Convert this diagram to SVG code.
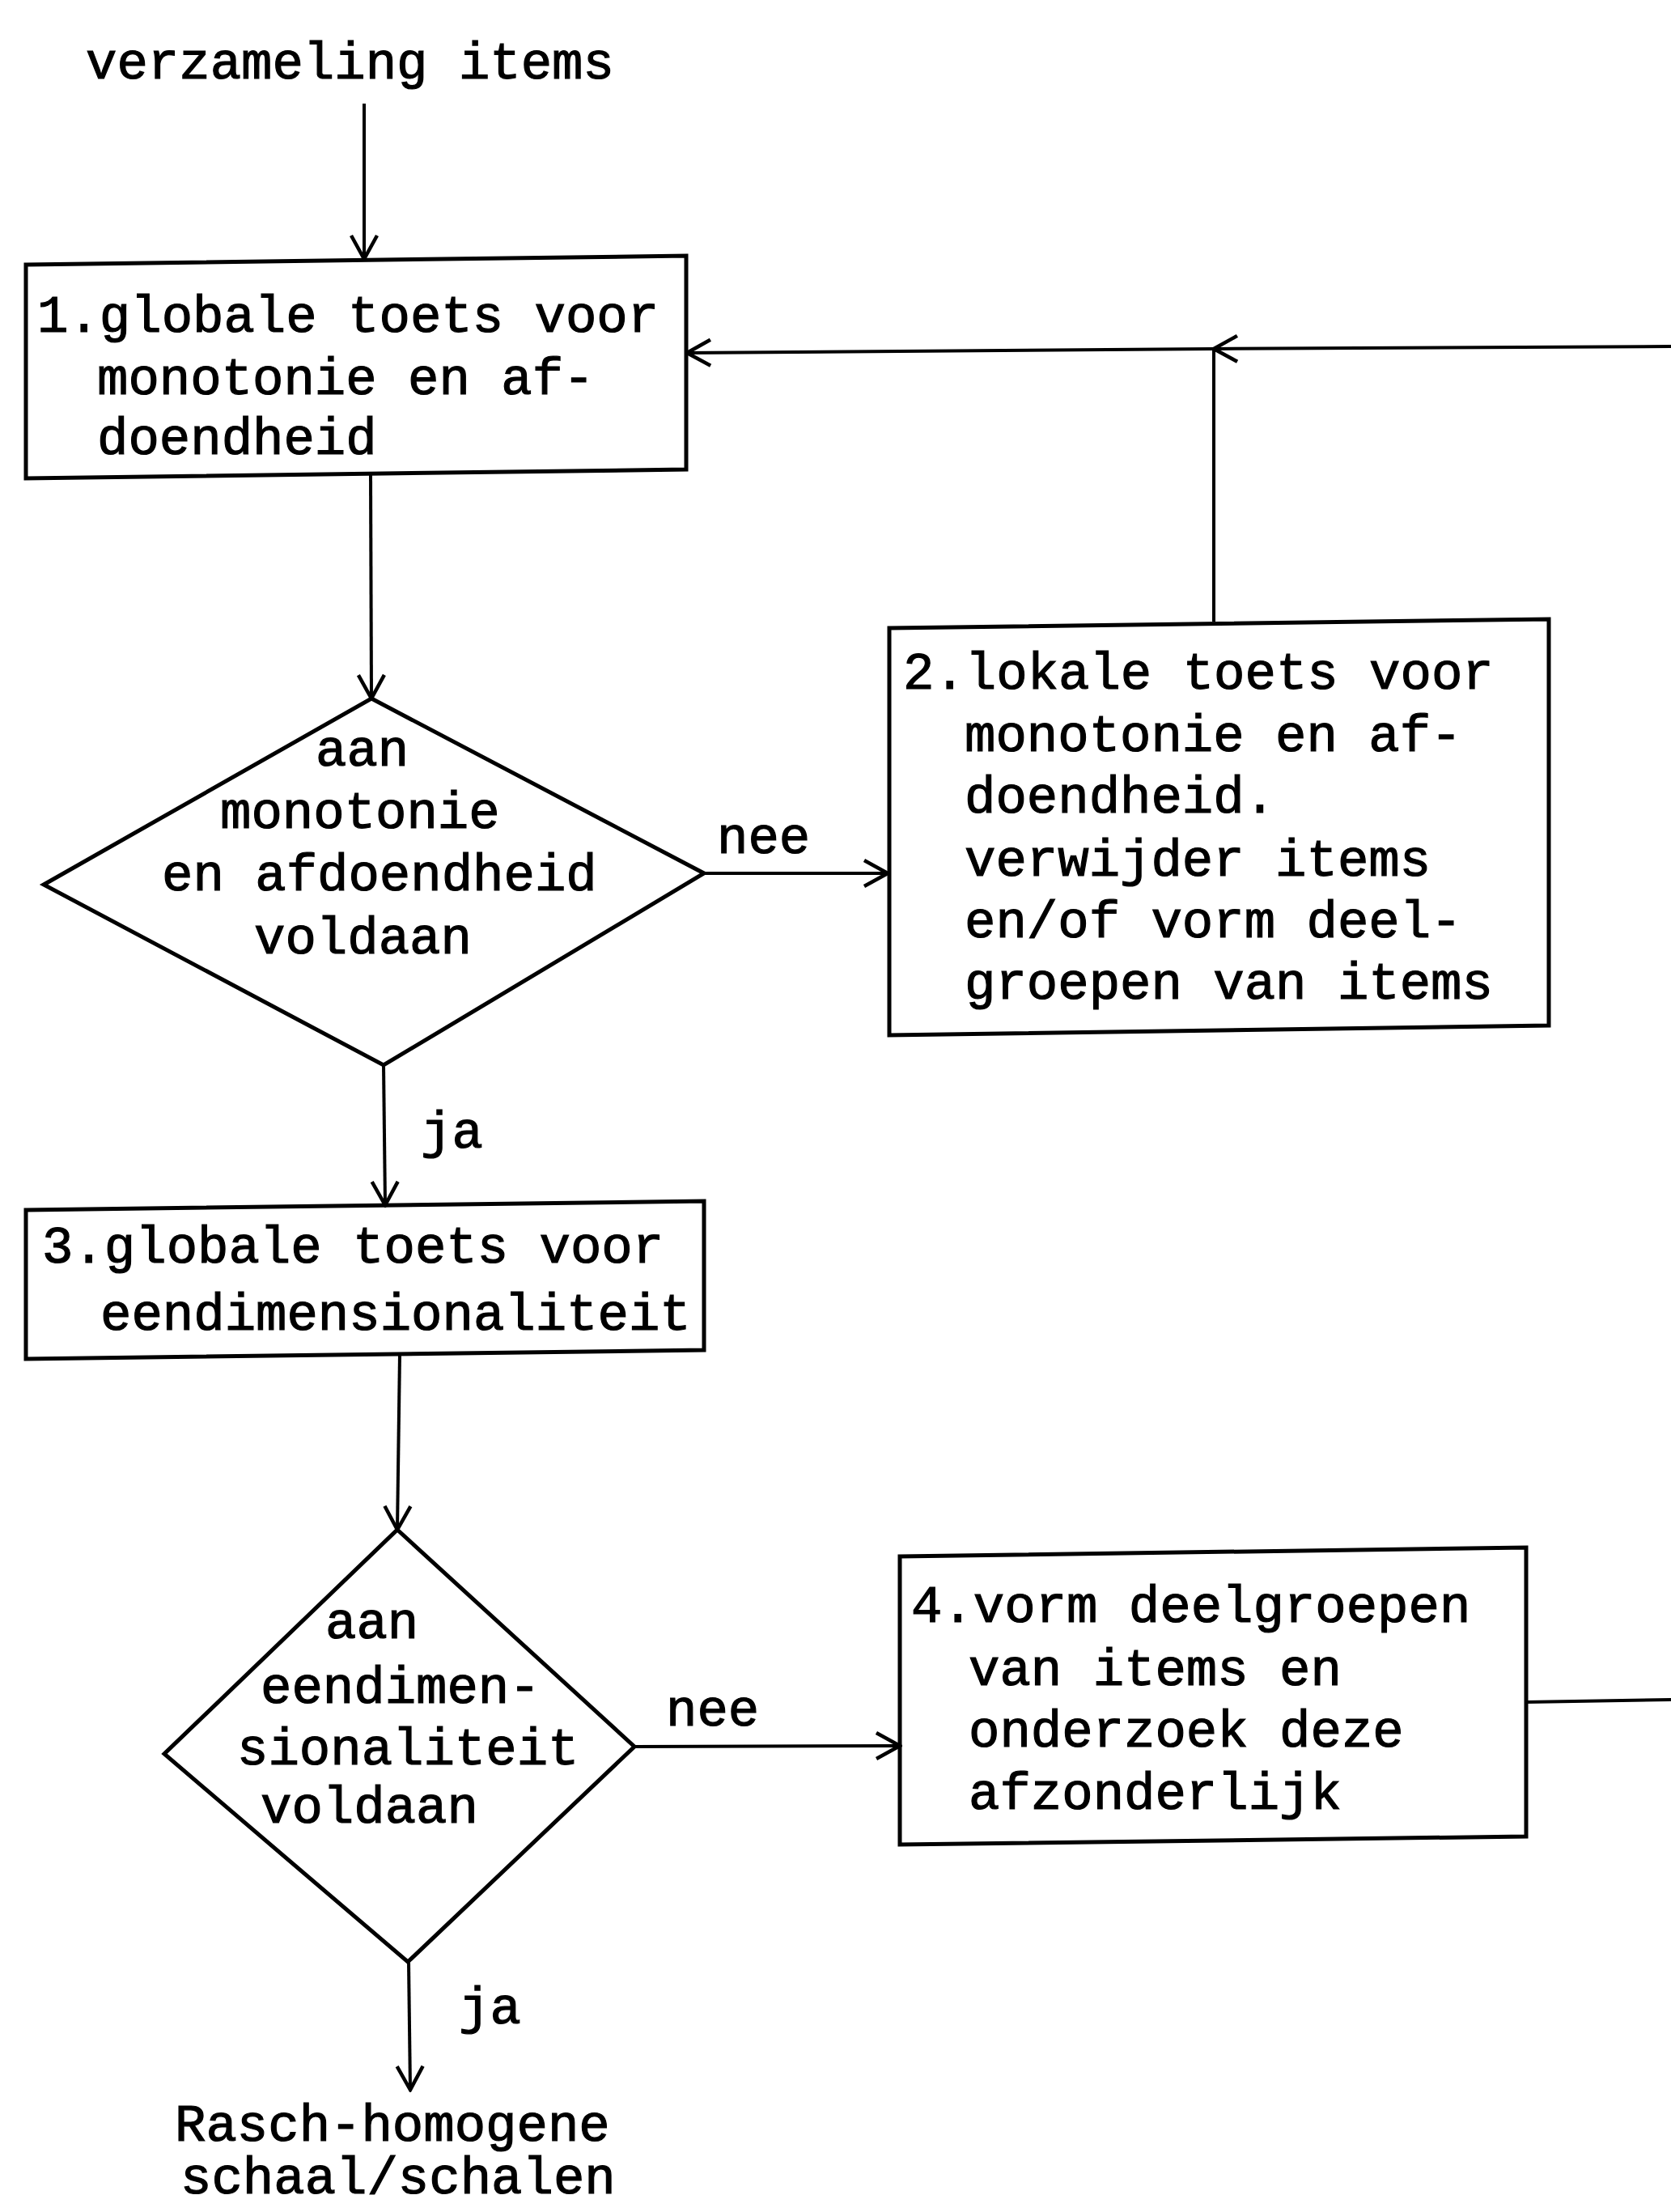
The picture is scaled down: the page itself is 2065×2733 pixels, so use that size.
<svg xmlns="http://www.w3.org/2000/svg" width="2065" height="2733" viewBox="0 0 2065 2733">
<style>
text{font-family:"Liberation Mono","DejaVu Sans Mono",monospace;font-size:64px;fill:#000;stroke:#000;stroke-width:1.2}
.shape{fill:none;stroke:#000;stroke-width:5;stroke-linejoin:miter}
.conn{fill:none;stroke:#000;stroke-width:4}
</style>
<defs>
<marker id="arr" markerUnits="userSpaceOnUse" markerWidth="44" markerHeight="40" viewBox="0 0 44 40" refX="41" refY="20" orient="auto">
<path d="M12,4 L41,20 L12,36" fill="none" stroke="#000" stroke-width="4.5"/>
</marker>
</defs>
<rect width="2065" height="2733" fill="#fff"/>

<g id="connectors">
<line class="conn" x1="450" y1="128" x2="450" y2="320" marker-end="url(#arr)"/>
<line class="conn" x1="458" y1="586" x2="459" y2="863" marker-end="url(#arr)"/>
<line class="conn" x1="870" y1="1079" x2="1097" y2="1079" marker-end="url(#arr)"/>
<line class="conn" x1="1500" y1="768" x2="1500" y2="431"/>
<line class="conn" x1="2065" y1="428" x2="1500" y2="431" marker-end="url(#arr)"/>
<line class="conn" x1="1500" y1="431" x2="849" y2="436" marker-end="url(#arr)"/>
<line class="conn" x1="474" y1="1316" x2="476" y2="1489" marker-end="url(#arr)"/>
<line class="conn" x1="494" y1="1673" x2="491" y2="1890" marker-end="url(#arr)"/>
<line class="conn" x1="784" y1="2158" x2="1112" y2="2157" marker-end="url(#arr)"/>
<line class="conn" x1="1886" y1="2103" x2="2065" y2="2100"/>
<line class="conn" x1="505" y1="2424" x2="507" y2="2582" marker-end="url(#arr)"/>
<text x="886" y="1054">nee</text>
<text x="520" y="1418">ja</text>
<text x="823" y="2132">nee</text>
<text x="567" y="2500">ja</text>
</g>

<g id="start">
<text x="106" y="97">verzameling items</text>
</g>

<g id="node1">
<polygon class="shape" points="32,327 848,316 848,580 32,591"/>
<text x="46" y="410">1.globale toets voor</text>
<text x="120" y="487">monotonie en af-</text>
<text x="120" y="561">doendheid</text>
</g>

<g id="decision1">
<polygon class="shape" points="459,863 870,1079 474,1316 54,1093"/>
<text x="390" y="946">aan</text>
<text x="272" y="1023">monotonie</text>
<text x="200" y="1100">en afdoendheid</text>
<text x="314" y="1178">voldaan</text>
</g>

<g id="node2">
<polygon class="shape" points="1099,776 1914,765 1914,1267 1099,1279"/>
<text x="1116" y="851">2.lokale toets voor</text>
<text x="1192" y="928">monotonie en af-</text>
<text x="1192" y="1004">doendheid.</text>
<text x="1192" y="1082">verwijder items</text>
<text x="1192" y="1158">en/of vorm deel-</text>
<text x="1192" y="1234">groepen van items</text>
</g>

<g id="node3">
<polygon class="shape" points="32,1495 870,1484 870,1668 32,1679"/>
<text x="52" y="1560">3.globale toets voor</text>
<text x="124" y="1643">eendimensionaliteit</text>
</g>

<g id="decision2">
<polygon class="shape" points="491,1890 784,2158 504,2424 203,2167"/>
<text x="402" y="2024">aan</text>
<text x="322" y="2104">eendimen-</text>
<text x="293" y="2180">sionaliteit</text>
<text x="322" y="2252">voldaan</text>
</g>

<g id="node4">
<polygon class="shape" points="1112,1923 1886,1912 1886,2269 1112,2279"/>
<text x="1126" y="2004">4.vorm deelgroepen</text>
<text x="1197" y="2082">van items en</text>
<text x="1197" y="2158">onderzoek deze</text>
<text x="1197" y="2235">afzonderlijk</text>
</g>

<g id="end">
<text x="216" y="2645">Rasch-homogene</text>
<text x="223" y="2710">schaal/schalen</text>
</g>
</svg>
